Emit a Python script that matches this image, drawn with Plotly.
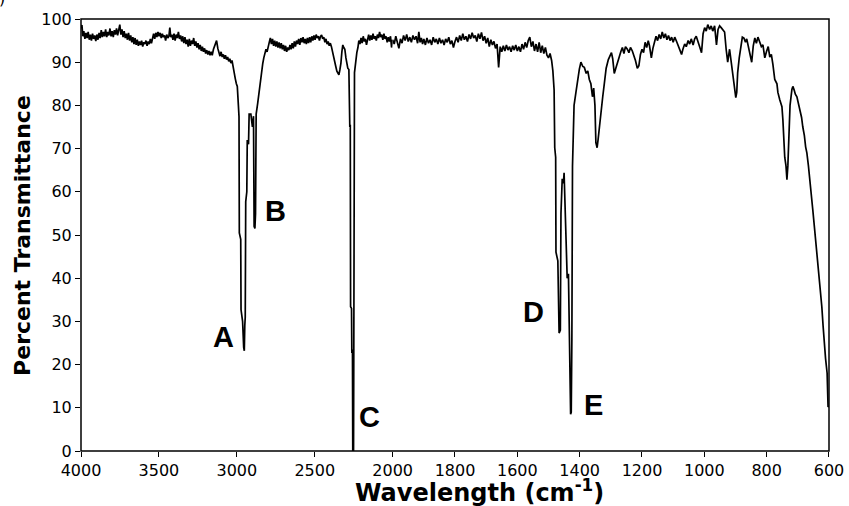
import numpy as np
import plotly.graph_objects as go

# ---- spectrum data (wavenumber in cm-1, percent transmittance) ----
wavenumber = [
 4000, 3994, 3988, 3982, 3975, 3968, 3961, 3954, 3947, 3940, 3933, 3926, 3919, 3912, 3905, 3898,
 3891, 3884, 3877, 3870, 3863, 3856, 3849, 3842, 3835, 3828, 3821, 3814, 3807, 3800, 3793, 3786,
 3779, 3772, 3765, 3758, 3751, 3744, 3737, 3730, 3723, 3716, 3709, 3702, 3695, 3688, 3681, 3674,
 3667, 3660, 3653, 3646, 3639, 3632, 3625, 3618, 3611, 3604, 3597, 3590, 3583, 3576, 3569, 3562,
 3555, 3548, 3541, 3534, 3527, 3520, 3513, 3506, 3499, 3492, 3485, 3478, 3471, 3464, 3457, 3450,
 3443, 3436, 3430, 3424, 3417, 3410, 3403, 3396, 3389, 3382, 3375, 3368, 3361, 3354, 3347, 3340,
 3333, 3326, 3319, 3312, 3305, 3298, 3291, 3284, 3277, 3270, 3263, 3256, 3249, 3242, 3235, 3228,
 3221, 3214, 3207, 3200, 3193, 3186, 3179, 3172, 3165, 3158, 3150, 3140, 3130, 3122, 3115, 3108,
 3101, 3094, 3087, 3080, 3073, 3066, 3059, 3052, 3045, 3038, 3031, 3024, 3017, 3010, 3003, 2997,
 2990, 2986, 2984, 2975, 2973, 2965, 2963, 2956, 2952, 2949, 2946, 2943, 2936, 2933, 2925, 2921,
 2910, 2900, 2893, 2889, 2884, 2880, 2876, 2866, 2856, 2848, 2841, 2834, 2827, 2820, 2813, 2806,
 2799, 2792, 2785, 2778, 2771, 2764, 2757, 2750, 2743, 2736, 2729, 2722, 2715, 2708, 2701, 2694,
 2687, 2680, 2673, 2666, 2659, 2652, 2645, 2638, 2631, 2624, 2617, 2610, 2603, 2596, 2589, 2582,
 2575, 2568, 2561, 2554, 2547, 2540, 2533, 2526, 2519, 2512, 2505, 2498, 2491, 2484, 2477, 2470,
 2463, 2456, 2449, 2442, 2435, 2428, 2421, 2414, 2407, 2400, 2393, 2386, 2379, 2372, 2365, 2358,
 2351, 2345, 2339, 2332, 2326, 2320, 2314, 2307, 2300, 2294, 2288, 2281, 2275, 2272, 2270, 2264,
 2262, 2258, 2256, 2251, 2245, 2238, 2230, 2223, 2217, 2210, 2203, 2196, 2189, 2182, 2175, 2168,
 2161, 2154, 2147, 2140, 2133, 2126, 2119, 2112, 2105, 2098, 2091, 2084, 2077, 2070, 2063, 2056,
 2049, 2042, 2035, 2028, 2021, 2014, 2007, 2000,
 1995, 1990, 1985, 1980, 1975, 1970, 1965, 1960, 1955, 1950, 1945, 1940, 1935, 1930, 1925, 1920,
 1916, 1912, 1908, 1904, 1900, 1895, 1890, 1885, 1880, 1875, 1870, 1865, 1860, 1855, 1850, 1845,
 1840, 1835, 1830, 1825, 1820, 1815, 1810, 1805, 1800, 1795, 1790, 1785, 1780, 1775, 1770, 1765,
 1760, 1755, 1750, 1745, 1740, 1735, 1730, 1725, 1720, 1715, 1710, 1705, 1700, 1695, 1690, 1685,
 1680, 1675, 1670, 1665, 1660, 1655, 1650, 1645, 1640, 1635, 1630, 1625, 1620, 1615, 1610, 1605,
 1600, 1595, 1590, 1585, 1580, 1575, 1570, 1565, 1560, 1555, 1550, 1545, 1540, 1535, 1530, 1525,
 1520, 1515, 1510, 1505, 1500, 1495, 1490, 1486, 1482, 1480, 1477, 1476, 1470, 1466, 1462, 1460,
 1456, 1452, 1450, 1446, 1440, 1436, 1432, 1429, 1427, 1425, 1423, 1418, 1412, 1407, 1401, 1396,
 1390, 1385, 1379, 1374, 1369, 1364, 1359, 1355, 1351, 1348, 1344, 1341, 1337, 1332, 1326, 1321,
 1315, 1308, 1304, 1298, 1294, 1289, 1284, 1279, 1274, 1268, 1263, 1258, 1253, 1247, 1242, 1237,
 1231, 1226, 1221, 1215, 1210, 1205, 1200, 1195, 1190, 1185, 1180, 1176, 1170, 1165, 1160, 1155,
 1150, 1145, 1140, 1135, 1130, 1125, 1120, 1115, 1110, 1105, 1100, 1095, 1089, 1084, 1079, 1073,
 1068, 1063, 1058, 1052, 1047, 1042, 1036, 1031, 1026, 1020, 1015, 1009, 1004, 999, 994, 989,
 983, 978, 973, 967, 961, 956, 951, 946, 940, 935, 930, 925, 919, 914, 909, 904,
 899, 896, 893, 888, 883, 878, 873, 868, 864, 859, 854, 848, 843, 838, 833, 828,
 822, 817, 812, 806, 800, 795, 790, 785, 780, 774, 767, 764, 758, 751, 748, 745,
 742, 738, 735, 732, 729, 725, 719, 716, 712, 708, 703, 698, 693, 688, 684, 679,
 675, 671, 666, 661, 656, 652, 647, 642, 637, 632, 627, 623, 619, 616, 611, 606,
 603, 600,
]

transmittance = [
 97.8, 98.6, 96.0, 97.2, 95.4, 96.8, 95.6, 97.0, 95.2, 96.4, 95.0, 96.6, 95.4, 96.2, 94.9, 96.4,
 95.2, 96.8, 95.6, 97.4, 95.8, 97.0, 96.0, 97.6, 95.8, 97.0, 96.2, 97.8, 96.0, 97.2, 95.8, 97.4,
 96.4, 97.8, 96.2, 98.0, 98.7, 96.4, 97.6, 95.8, 97.2, 95.6, 96.6, 95.2, 96.8, 95.0, 96.2, 94.6,
 95.8, 94.2, 95.6, 94.0, 95.2, 93.8, 94.8, 94.0, 95.0, 93.6, 94.6, 94.2, 95.0, 93.8, 94.8, 94.2,
 95.4, 94.4, 95.8, 96.6, 95.4, 96.8, 95.8, 97.0, 96.0, 96.8, 95.6, 96.6, 95.8, 96.2, 95.0, 96.4,
 95.6, 96.0, 98.0, 95.8, 96.4, 95.2, 96.6, 95.0, 96.4, 95.6, 97.0, 95.4, 96.2, 94.8, 96.0, 94.4,
 95.8, 94.2, 95.2, 93.6, 95.4, 93.8, 95.0, 94.2, 95.6, 93.8, 94.8, 93.4, 94.4, 93.0, 94.0, 92.6,
 93.6, 92.4, 93.2, 92.0, 92.8, 91.8, 92.6, 91.6, 92.4, 91.6, 93.0, 94.2, 95.0, 93.2, 92.2, 91.4,
 92.4, 91.2, 91.8, 90.8, 91.6, 90.6, 91.2, 90.2, 90.8, 89.8, 90.4, 88.6, 86.8, 86.2, 85.0, 84.4,
 80.0, 77.4, 50.5, 49.0, 32.7, 31.0, 30.0, 24.0, 23.2, 29.0, 31.0, 57.7, 60.0, 72.0, 71.0, 78.0,
 78.0, 75.0, 77.5, 52.0, 51.5, 55.0, 78.0, 80.5, 83.7, 86.0, 88.0, 89.6, 91.0, 92.2, 93.0, 92.4,
 94.0, 94.6, 95.6, 94.2, 95.4, 93.8, 95.0, 93.6, 94.8, 93.4, 94.6, 93.2, 94.4, 93.0, 94.0, 92.6,
 93.8, 92.4, 93.4, 92.8, 94.0, 93.0, 94.4, 93.2, 94.8, 93.6, 95.0, 94.2, 95.4, 94.0, 95.6, 94.6,
 95.8, 94.4, 95.4, 94.2, 95.6, 94.4, 95.8, 94.6, 96.0, 95.0, 96.2, 95.2, 96.4, 95.6, 96.0, 95.0,
 96.0, 96.3, 95.4, 95.8, 94.6, 95.4, 94.2, 94.8, 93.8, 94.4, 93.6, 92.6, 91.0, 90.0, 89.0, 87.9,
 87.4, 87.1, 88.2, 89.8, 92.4, 94.0, 93.4, 93.0, 91.0, 89.6, 88.6, 88.3, 75.0, 75.5, 33.4, 33.0,
 22.7, 23.5, 0.0, 0.0, 87.6, 90.0, 92.2, 93.4, 95.0, 94.2, 95.6, 94.4, 96.0, 94.8, 95.4, 94.0,
 95.2, 96.4, 95.0, 96.2, 95.2, 96.6, 95.4, 96.0, 95.0, 96.4, 95.6, 97.0, 95.8, 96.4, 95.2, 96.6,
 95.4, 96.0, 94.6, 95.8, 94.8, 96.0, 93.4, 95.2,
 94.2, 96.0, 94.6, 93.2, 95.4, 94.4, 96.2, 95.0, 96.4, 94.8, 95.8, 94.6, 96.2, 95.2, 96.0, 94.4,
 97.0, 94.6, 95.6, 94.2, 95.4, 94.0, 95.6, 94.4, 95.2, 94.0, 95.8, 94.6, 95.4, 94.2, 95.6, 94.4,
 95.2, 94.0, 95.4, 94.6, 95.8, 94.2, 95.0, 93.4, 94.8, 95.8, 94.6, 96.2, 95.0, 96.6, 95.2, 96.0,
 94.8, 96.4, 95.4, 96.8, 95.6, 96.2, 94.8, 96.6, 95.4, 96.9, 95.0, 96.0, 94.4, 95.6, 93.6, 95.2,
 94.0, 94.8, 93.2, 94.2, 88.8, 93.6, 92.4, 93.8, 92.6, 94.0, 92.8, 93.6, 92.4, 93.8, 92.8, 94.0,
 92.6, 93.6, 92.4, 94.2, 93.0, 94.6, 93.4, 95.0, 95.8, 93.6, 94.8, 92.6, 94.2, 92.4, 94.6, 92.2,
 93.8, 92.0, 93.4, 91.6, 91.0, 92.0, 90.4, 88.0, 83.6, 70.2, 68.0, 46.0, 44.0, 27.3, 28.0, 55.0,
 63.0, 62.0, 64.4, 55.0, 40.0, 41.0, 20.0, 8.5, 9.0, 26.0, 66.0, 80.0, 83.0, 86.0, 88.4, 90.0,
 89.0, 88.8, 87.4, 88.0, 86.0, 85.0, 82.0, 84.0, 80.0, 71.4, 70.2, 72.0, 75.0, 79.0, 82.0, 85.0,
 88.6, 90.6, 91.4, 92.2, 90.8, 87.4, 88.6, 90.0, 91.2, 92.4, 93.4, 92.0, 93.6, 93.0, 92.2, 93.4,
 92.6, 91.6, 90.4, 88.6, 89.2, 91.8, 93.0, 92.2, 94.6, 93.4, 95.0, 93.8, 91.0, 93.2, 94.6, 96.0,
 95.0, 96.4, 95.4, 97.0, 95.6, 96.6, 95.2, 96.2, 95.0, 95.8, 94.6, 95.8, 94.8, 93.8, 93.0, 91.8,
 93.2, 94.2, 93.6, 95.0, 94.2, 95.4, 94.0, 95.4, 96.0, 94.4, 93.6, 92.2, 96.6, 98.0, 97.2, 98.7,
 97.6, 98.4, 97.2, 98.4, 94.0, 97.6, 98.4, 98.0, 97.4, 97.0, 93.0, 90.0, 93.0, 90.0, 87.6, 84.0,
 81.8, 83.0, 87.6, 91.0, 94.0, 95.8, 95.6, 94.6, 95.4, 93.6, 92.4, 90.0, 93.8, 95.6, 94.4, 95.8,
 94.6, 93.6, 94.0, 91.0, 92.6, 93.6, 91.2, 91.8, 89.5, 86.0, 85.0, 83.0, 81.3, 79.7, 76.7, 70.0,
 68.0, 66.0, 62.8, 66.0, 75.0, 80.0, 83.7, 84.4, 83.6, 82.6, 82.0, 80.6, 79.0, 77.2, 75.0, 73.0,
 70.4, 69.0, 66.0, 62.8, 59.0, 55.8, 52.0, 48.2, 45.0, 40.3, 36.8, 33.4, 29.0, 25.0, 21.4, 18.0,
 10.2, 10.5,
]

# tick labels
ticks_high = [4000, 3500, 3000, 2500]
ticks_low = [2000, 1800, 1600, 1400, 1200, 1000, 800, 600]
ticks_y = [0, 10, 20, 30, 40, 50, 60, 70, 80, 90, 100]

# peak labels
label_text = ["A", "B", "C", "D", "E"]
label_wn = [3086, 2754, 2147, 1549, 1356]
label_T = [26.4, 55.6, 7.9, 32.2, 10.7]

wn = np.array(wavenumber, dtype=float)
tr = np.array(transmittance, dtype=float)
hi = wn >= 2000
lo = wn <= 2000

# axis break: 4000-2000 drawn at half the scale of 2000-600
split = (4000 - 2000) / 2 / ((4000 - 2000) / 2 + (2000 - 600))

tickfont = dict(family="DejaVu Sans", size=16, color="black")
line = dict(color="black", width=1.7)

fig = go.Figure()
fig.add_trace(go.Scatter(x=wn[hi], y=tr[hi], mode="lines", line=line, xaxis="x", yaxis="y",
                         showlegend=False, hoverinfo="skip"))
fig.add_trace(go.Scatter(x=wn[lo], y=tr[lo], mode="lines", line=line, xaxis="x2", yaxis="y",
                         showlegend=False, hoverinfo="skip"))

axis_common = dict(showgrid=False, zeroline=False, showline=False, ticks="outside",
                   ticklen=5, tickwidth=1.3, tickcolor="black", tickfont=tickfont,
                   automargin=False)

fig.update_layout(
    width=849, height=506,
    margin=dict(l=81, r=20, t=19, b=55, autoexpand=False),
    paper_bgcolor="white", plot_bgcolor="white",
    xaxis=dict(domain=[0, split], range=[4000, 2000], tickvals=ticks_high, anchor="y", **axis_common),
    xaxis2=dict(domain=[split, 1], range=[2000, 600], tickvals=ticks_low, anchor="y", **axis_common),
    yaxis=dict(range=[0, 100], tickvals=ticks_y, anchor="x", **axis_common),
    shapes=[dict(type="rect", xref="paper", yref="paper", x0=0, x1=1, y0=0, y1=1,
                 line=dict(color="black", width=1.5), layer="above")],
)

anns = []
for t, w, v in zip(label_text, label_wn, label_T):
    anns.append(dict(text=f"<b>{t}</b>", x=w, y=v, xref="x" if w > 2000 else "x2", yref="y",
                     showarrow=False, font=dict(family="Liberation Sans", size=29, color="black"),
                     xanchor="center", yanchor="middle"))
anns.append(dict(text="<b>Percent Transmittance</b>", xref="paper", yref="paper",
                 x=-0.079, y=0.5, textangle=-90, showarrow=False,
                 font=dict(family="DejaVu Sans", size=22, color="black"),
                 xanchor="center", yanchor="middle"))
anns.append(dict(text="<b>Wavelength (cm<sup>-1</sup>)</b>", xref="paper", yref="paper",
                 x=0.533, y=-0.092, showarrow=False,
                 font=dict(family="DejaVu Sans", size=24, color="black"),
                 xanchor="center", yanchor="middle"))
anns.append(dict(text=")", xref="paper", yref="paper", x=-0.112, y=1.021, showarrow=False,
                 font=dict(family="DejaVu Sans", size=16, color="black"),
                 xanchor="left", yanchor="bottom"))
fig.update_layout(annotations=anns)

fig.write_html("out.html", config={"displayModeBar": False},
               post_script="document.body.style.margin='0';document.body.style.overflow='hidden';")
